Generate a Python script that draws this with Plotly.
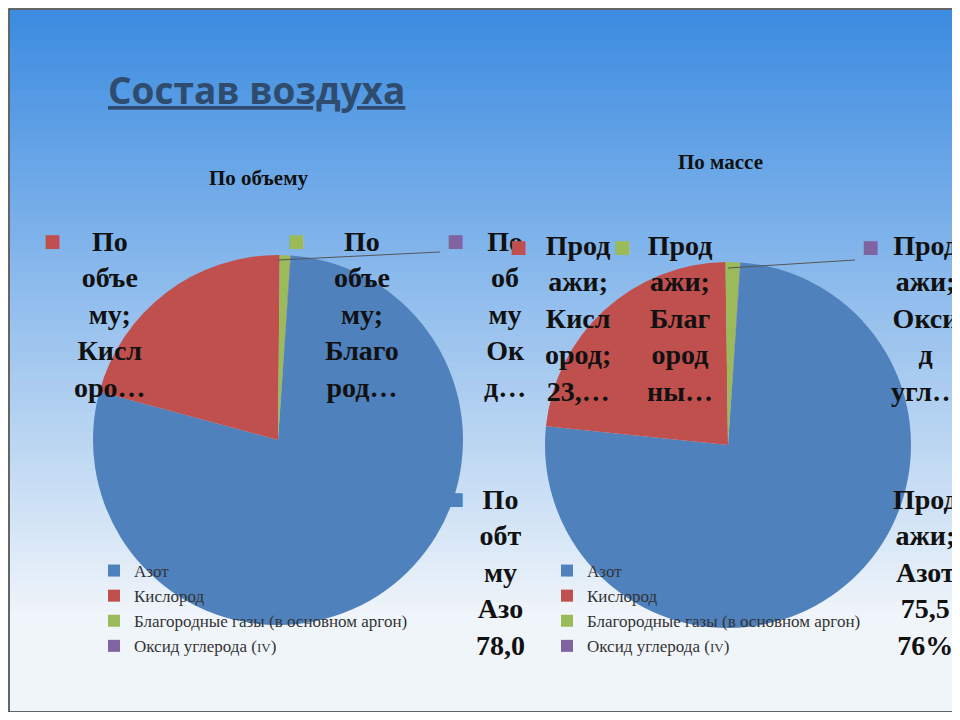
import plotly.graph_objects as go

labels = ["Азот", "Кислород", "Благородные газы (в основном аргон)", "Оксид углерода (IV)"]
legend_labels = ["Азот", "Кислород", "Благородные газы (в основном аргон)", "Оксид углерода (<span style='font-size:13px'>IV</span>)"]
vol_values = [78.08, 20.95, 0.93, 0.04]
mass_values = [75.52, 23.15, 1.28, 0.05]
colors = ["#4F81BD", "#C0504D", "#9BBB59", "#8064A2"]

fig = go.Figure()
OFF = 8
W, H = 944, 704
def px(x): return (x - OFF) / W
def py(y): return 1 - (y - OFF) / H

shapes = []
n = 70
top, bot = 10, 712
c1 = (60, 140, 225); c2 = (240, 245, 250)
for i in range(n):
    t = i / (n - 1)
    c = tuple(int(c1[k] + (c2[k] - c1[k]) * min(1, t * 1.15)) for k in range(3))
    y0 = top + (bot - top) * i / n
    y1 = top + (bot - top) * (i + 1) / n + 1
    shapes.append(dict(type="rect", xref="paper", yref="paper", x0=px(10), x1=px(952),
                       y0=py(y1), y1=py(y0), line=dict(width=0),
                       fillcolor="rgb(%d,%d,%d)" % c, layer="below"))
shapes.append(dict(type="rect", xref="paper", yref="paper", x0=px(9), x1=px(953), y0=py(712), y1=py(9),
                   line=dict(color="#333", width=1.5), layer="below"))
for (x0, y0, x1, y1) in [(278, 260, 440, 252), (728, 268, 855, 260)]:
    shapes.append(dict(type="line", xref="paper", yref="paper", x0=px(x0), x1=px(x1),
                       y0=py(y0), y1=py(y1), line=dict(color="#555", width=1)))

fig.add_trace(go.Pie(labels=legend_labels, values=vol_values, marker=dict(colors=colors),
                     sort=False, direction="clockwise", rotation=4, textinfo="none",
                     domain=dict(x=[px(93), px(463)], y=[py(625), py(255)]), legend="legend",
                     hoverinfo="label+value"))
fig.add_trace(go.Pie(labels=[l + "\u200b" for l in legend_labels], values=mass_values, marker=dict(colors=colors),
                     sort=False, direction="clockwise", rotation=4, textinfo="none",
                     domain=dict(x=[px(545), px(911)], y=[py(628), py(262)]), legend="legend2",
                     hoverinfo="label+value"))

ann = []
def A(x, y, text, size=26, color="#111", xanchor="center", yanchor="top", fam="Liberation Serif"):
    ann.append(dict(xref="paper", yref="paper", x=px(x), y=py(y), text=text, showarrow=False,
                    xanchor=xanchor, yanchor=yanchor, align="center",
                    font=dict(family=fam, size=size, color=color)))

A(106, 62, "<b><u>Состав воздуха</u></b>", size=37, color="#2F4B6E", xanchor="left", fam="Open Sans")
A(258, 164, "<b>По объему</b>", size=21)
A(720, 148, "<b>По массе</b>", size=21)
big = [
    (110, 224, "<b>По<br>объе<br>му;<br>Кисл<br>оро…</b>"),
    (362, 224, "<b>По<br>объе<br>му;<br>Благо<br>род…</b>"),
    (505, 224, "<b>По<br>об<br>му<br>Ок<br>д…</b>"),
    (500, 482, "<b>По<br>обт<br>му<br>Азо<br>78,0</b>"),
    (578, 228, "<b>Прод<br>ажи;<br>Кисл<br>ород;<br>23,…</b>"),
    (680, 228, "<b>Прод<br>ажи;<br>Благ<br>ород<br>ны…</b>"),
    (925, 228, "<b>Прод<br>ажи;<br>Окси<br>д<br>угл…</b>"),
    (925, 482, "<b>Прод<br>ажи;<br>Азот<br>75,5<br>76%</b>"),
]
for x, y, t in big:
    A(x, y, t, size=28)
markers = [(52, 240, 1), (296, 240, 2), (455, 240, 3), (455, 498, 0),
           (518, 246, 1), (622, 246, 2), (870, 246, 3)]
for x, y, ci in markers:
    A(x, y, "■", size=18, color=colors[ci], yanchor="middle", fam="DejaVu Sans")

lf = dict(family="Liberation Serif", size=17, color="#333")
fig.update_layout(
    width=W, height=H, margin=dict(l=0, r=0, t=0, b=0),
    paper_bgcolor="white", plot_bgcolor="white", shapes=shapes, annotations=ann,
    legend=dict(x=px(94), y=py(553), xanchor="left", yanchor="top", bgcolor="rgba(0,0,0,0)",
                font=lf, itemwidth=30),
    legend2=dict(x=px(547), y=py(553), xanchor="left", yanchor="top", bgcolor="rgba(0,0,0,0)",
                 font=lf, itemwidth=30),
)
fig.write_html("out.html")
